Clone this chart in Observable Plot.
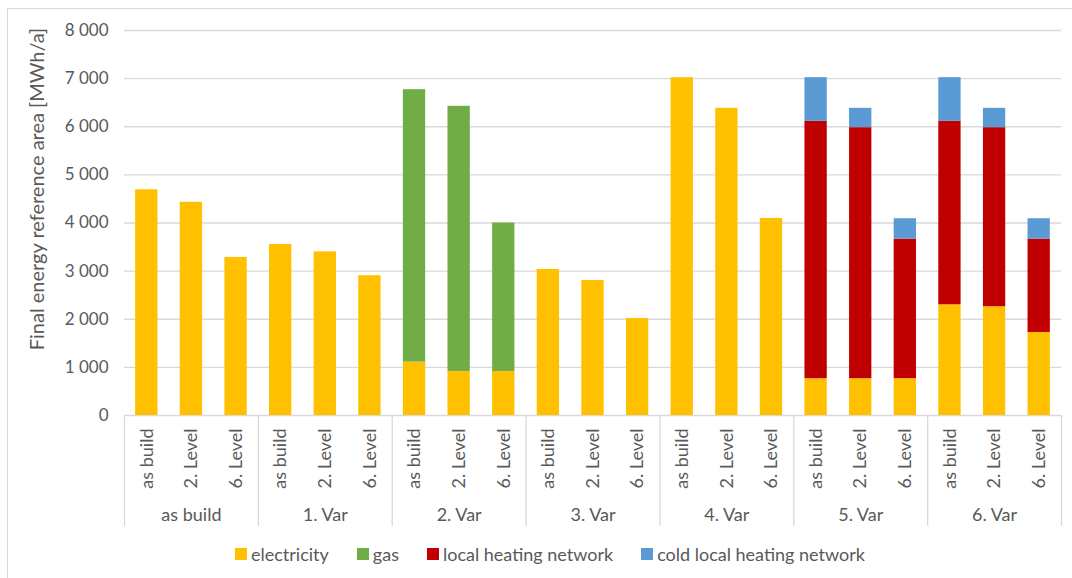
<!DOCTYPE html>
<html>
<head>
<meta charset="utf-8">
<script src="https://cdn.jsdelivr.net/npm/d3@7"></script>
<script src="https://cdn.jsdelivr.net/npm/@observablehq/plot@0.6"></script>
<style>
  html, body { margin: 0; padding: 0; background: #fff; }
  #chart { position: relative; width: 1072px; height: 578px; overflow: hidden; font-family: Lato, "Open Sans", sans-serif; color: #595959; }
  #main, #axis { position: absolute; left: 0; }
  #main { top: 0; }
  #axis { top: 415px; }
  #frame { position: absolute; left: 7px; top: 8px; width: 1200px; height: 700px; border-left: 1px solid #d9d9d9; border-top: 1px solid #d9d9d9; pointer-events: none; }
  #legend { position: absolute; left: 235px; top: 542px; height: 24px; display: flex; align-items: center; font-size: 18px; color: #595959; white-space: nowrap; }
  #legend .item { display: flex; align-items: center; margin-right: 28px; }
  #legend .sw { width: 12px; height: 12px; margin-right: 4px; }
</style>
</head>
<body>
<div id="chart">
  <div id="main"></div>
  <div id="axis"></div>
  <div id="legend"></div>
  <div id="frame"></div>
</div>
<script>
// ---- data ----
const groups = ["as build", "1. Var", "2. Var", "3. Var", "4. Var", "5. Var", "6. Var"];
const levels = ["as build", "2. Level", "6. Level"];
const seriesNames = ["electricity", "gas", "local heating network", "cold local heating network"];
const seriesColors = ["#FFC000", "#70AD47", "#C00000", "#5B9BD5"];
const yTitle = "Final energy reference area [MWh/a]";
const yTicks = [0, 1000, 2000, 3000, 4000, 5000, 6000, 7000, 8000];

// values per bar, in order group × level
const electricity  = [4690, 4430, 3285,  3555, 3400, 2905,  1110, 915, 915,   3035, 2805, 2015,  7020, 6383, 4095,  765, 765, 765,    2300, 2260, 1725];
const gas          = [0, 0, 0,           0, 0, 0,           5660, 5510, 3085, 0, 0, 0,           0, 0, 0,           0, 0, 0,          0, 0, 0];
const localHeating = [0, 0, 0,           0, 0, 0,           0, 0, 0,          0, 0, 0,           0, 0, 0,           5347, 5216, 2901, 3812, 3721, 1941];
const coldLocal    = [0, 0, 0,           0, 0, 0,           0, 0, 0,          0, 0, 0,           0, 0, 0,           908, 402, 423,    908, 402, 423];

// ---- build table ----
const keys = groups.flatMap(g => levels.map(l => g + "|" + l));
const rows = [];
[electricity, gas, localHeating, coldLocal].forEach((vals, s) => {
  vals.forEach((v, i) => rows.push({key: keys[i], series: seriesNames[s], value: v}));
});

const W = 1072, mLeft = 124, mRight = 11;
const step = (W - mLeft - mRight) / keys.length;
const font = {fontFamily: "Lato, 'Open Sans', sans-serif", color: "#595959", background: "transparent"};
const fmt = d => d3.format(",")(d).replace(/,/g, " ");
const xOpts = {domain: keys, paddingInner: 0.5, paddingOuter: 0.25, round: false, axis: null};

const main = Plot.plot({
  width: W, height: 435,
  marginTop: 30, marginBottom: 20, marginLeft: mLeft, marginRight: mRight,
  x: xOpts,
  y: {domain: [0, 8000], ticks: yTicks, tickFormat: fmt, tickSize: 0, tickPadding: 16, label: null},
  color: {domain: seriesNames, range: seriesColors},
  style: {...font, fontSize: "17px"},
  marks: [
    Plot.ruleY(yTicks, {stroke: "#d9d9d9", strokeWidth: 1.3}),
    Plot.barY(rows, {x: "key", y: "value", fill: "series"}),
    Plot.text([yTitle], {frameAnchor: "left", textAnchor: "middle", lineAnchor: "middle", rotate: -90, dx: -87, dy: -34, fill: "#595959", fontSize: 20})
  ]
});
document.getElementById("main").appendChild(main);

const groupStarts = groups.map(g => g + "|" + levels[0]);
const axis = Plot.plot({
  width: W, height: 111,
  marginTop: 0, marginBottom: 0, marginLeft: mLeft, marginRight: mRight,
  x: xOpts,
  style: {...font, fontSize: "18px"},
  marks: [
    Plot.ruleX(groupStarts, {x: d => d, dx: -step / 2, stroke: "#d9d9d9", strokeWidth: 1.3}),
    Plot.ruleX([keys[keys.length - 1]], {x: d => d, dx: step / 2, stroke: "#d9d9d9", strokeWidth: 1.3}),
    Plot.text(keys, {x: d => d, text: d => d.split("|")[1], frameAnchor: "top", rotate: -90, textAnchor: "end", lineAnchor: "middle", dy: 13, fill: "#595959"}),
    Plot.text(groups, {x: g => g + "|" + levels[1], text: g => g, frameAnchor: "top", lineAnchor: "middle", dy: 100, fill: "#595959"})
  ]
});
document.getElementById("axis").appendChild(axis);

// ---- legend ----
const legend = document.getElementById("legend");
seriesNames.forEach((name, i) => {
  const item = document.createElement("div");
  item.className = "item";
  const sw = document.createElement("span");
  sw.className = "sw";
  sw.style.background = seriesColors[i];
  const t = document.createElement("span");
  t.textContent = name;
  item.appendChild(sw);
  item.appendChild(t);
  legend.appendChild(item);
});
</script>
</body>
</html>
